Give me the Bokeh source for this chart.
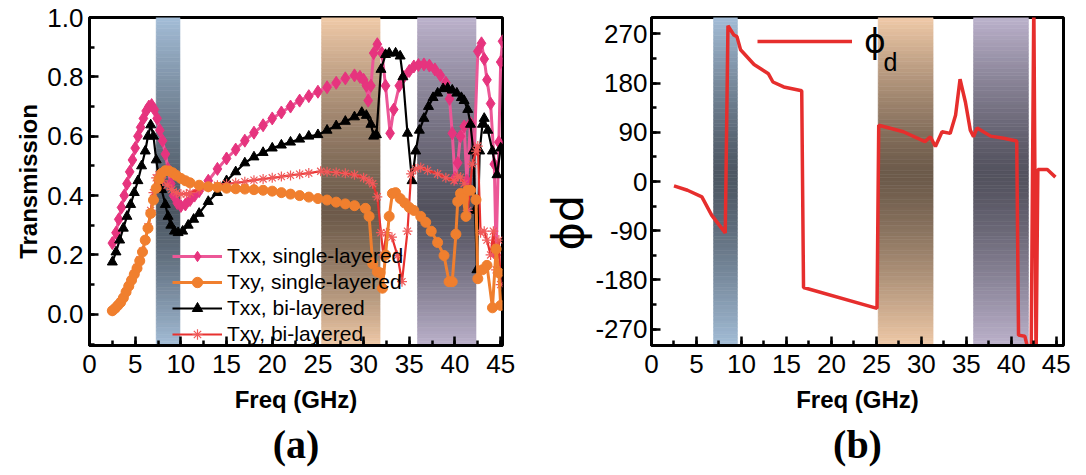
import numpy as np
from bokeh.plotting import figure
from bokeh.models import (Range1d, SingleIntervalTicker, PrintfTickFormatter, Legend,
                          LegendItem, Title, Label)
from bokeh.layouts import row
from bokeh.embed import file_html
from bokeh.resources import INLINE

# ---------------- data: panel (a) ----------------
freq_txx_single = [2.5, 2.9, 3.2, 3.5, 3.8, 4.1, 4.4, 4.7, 5.0, 5.3, 5.6, 5.9, 6.2, 6.5, 6.8, 7.1, 7.4, 7.7, 8.0, 8.3,
                   8.6, 8.9, 9.2, 9.6, 10.0, 10.5, 11.0, 11.5, 12, 13, 14, 15, 16, 17, 18, 19, 20, 21, 22, 23,
                   24, 25, 26, 27, 28, 29, 29.6, 30.0, 30.3, 30.5, 30.8, 31.1, 31.5, 32.0, 32.4, 32.9, 33.3, 33.9, 34.4, 35,
                   35.5, 36, 36.6, 37.2, 37.8, 38.4, 39.0, 39.4, 39.7, 40.0, 40.3, 40.6, 41.0, 41.3, 41.7, 42.1, 42.5, 42.9, 43.2, 43.5,
                   43.9, 44.3, 44.5, 44.8, 45.0, 45.2]
txx_single = [0.24, 0.275, 0.32, 0.36, 0.40, 0.44, 0.48, 0.52, 0.56, 0.60, 0.63, 0.66, 0.685, 0.70, 0.705, 0.69, 0.66, 0.62, 0.585, 0.54,
              0.49, 0.44, 0.40, 0.375, 0.365, 0.37, 0.385, 0.40, 0.415, 0.45, 0.49, 0.525, 0.555, 0.585, 0.612, 0.637, 0.66, 0.68, 0.70, 0.72,
              0.735, 0.75, 0.765, 0.78, 0.795, 0.805, 0.80, 0.79, 0.77, 0.72, 0.77, 0.88, 0.91, 0.88, 0.77, 0.61, 0.69, 0.77, 0.80, 0.82,
              0.835, 0.84, 0.842, 0.838, 0.825, 0.805, 0.78, 0.726, 0.61, 0.46, 0.51, 0.60, 0.633, 0.45, 0.644, 0.55, 0.886, 0.913, 0.86, 0.79,
              0.71, 0.506, 0.20, 0.58, 0.85, 0.92]

freq_txy_single = [2.5, 2.8, 3.1, 3.4, 3.7, 4.0, 4.3, 4.6, 4.9, 5.2, 5.5, 5.8, 6.1, 6.4, 6.7, 7.0, 7.3, 7.6, 7.9, 8.3,
                   8.7, 9.1, 9.5, 10.0, 10.5, 11, 12, 13, 14, 15, 16, 17, 18, 19, 20, 21, 22, 23, 24, 25,
                   26, 27, 28, 29, 30.2, 30.6, 31.0, 31.5, 31.8, 32.06, 32.4, 32.8, 33.15, 33.5, 34, 34.5, 35, 35.5, 36.25, 36.8,
                   37.4, 38.1, 38.8, 39.35, 39.7, 40.1, 40.3, 40.6, 40.9, 41.2, 41.4, 41.7, 42.3, 42.5, 43.0, 43.5, 44.1, 44.5, 44.8, 45.0]
txy_single = [0.012, 0.02, 0.03, 0.04, 0.055, 0.075, 0.095, 0.115, 0.135, 0.155, 0.18, 0.21, 0.25, 0.29, 0.34, 0.385, 0.425, 0.455, 0.475, 0.484,
              0.483, 0.477, 0.468, 0.458, 0.45, 0.443, 0.435, 0.43, 0.428, 0.425, 0.423, 0.422, 0.42, 0.418, 0.415, 0.41, 0.405, 0.40, 0.395, 0.39,
              0.385, 0.378, 0.372, 0.366, 0.357, 0.33, 0.17, 0.143, 0.14, 0.088, 0.20, 0.33, 0.407, 0.41, 0.39, 0.375, 0.36, 0.35, 0.33, 0.31,
              0.28, 0.242, 0.198, 0.11, 0.11, 0.27, 0.38, 0.407, 0.39, 0.33, 0.418, 0.418, 0.386, 0.12, 0.15, 0.165, 0.022, 0.22, 0.14, 0.03]

freq_txx_bi = [2.5, 2.9, 3.3, 3.7, 4.1, 4.5, 4.9, 5.3, 5.7, 6.1, 6.4, 6.7, 7.0, 7.3, 7.6, 7.9, 8.3, 8.6, 8.9, 9.3,
               9.7, 10.2, 10.8, 11.4, 12, 13, 14, 15, 16, 17, 18, 19, 20, 21, 22, 23, 24, 25, 26, 27,
               28, 29, 29.8, 30.3, 30.8, 31.1, 31.4, 31.9, 32.4, 32.8, 33.5, 34.0, 34.3, 34.8, 35.3, 35.7, 36.1, 36.6, 37.1, 37.6,
               38.1, 38.7, 39.2, 39.7, 40.2, 40.7, 41.0, 41.4, 41.7, 42.0, 42.2, 42.4, 42.7, 43.0, 43.2, 43.6, 44.1, 44.6, 45.0]
txx_bi = [0.176, 0.21, 0.25, 0.29, 0.33, 0.37, 0.41, 0.45, 0.50, 0.55, 0.60, 0.638, 0.60, 0.52, 0.46, 0.42, 0.37, 0.33, 0.30, 0.28,
          0.275, 0.28, 0.30, 0.32, 0.34, 0.38, 0.41, 0.45, 0.48, 0.51, 0.53, 0.545, 0.56, 0.57, 0.58, 0.59, 0.60, 0.605, 0.62, 0.635,
          0.65, 0.665, 0.68, 0.67, 0.64, 0.60, 0.605, 0.825, 0.875, 0.88, 0.88, 0.87, 0.80, 0.61, 0.45, 0.55, 0.62, 0.66, 0.70, 0.73,
          0.745, 0.76, 0.762, 0.755, 0.745, 0.73, 0.72, 0.69, 0.64, 0.55, 0.35, 0.15, 0.55, 0.64, 0.66, 0.62, 0.55, 0.47, 0.56]

freq_txy_bi = [2.5, 2.8, 3.1, 3.4, 3.7, 4.0, 4.3, 4.6, 4.9, 5.2, 5.5, 5.8, 6.1, 6.4, 6.7, 7.0, 7.3, 7.6, 8.0, 8.5,
               9.0, 9.5, 10.0, 10.6, 11, 12, 13, 14, 15, 16, 17, 18, 19, 20, 21, 22, 23, 24, 25.3, 26,
               27, 28, 29, 30, 30.6, 31.0, 31.5, 31.9, 32.15, 32.5, 33.1, 33.7, 34.2, 34.8, 35.2, 35.7, 36.25, 37, 38.1, 39,
               39.9, 40.3, 40.6, 41.0, 41.4, 41.9, 42.3, 42.5, 42.8, 43.2, 43.5, 43.9, 44.2, 44.5, 44.8, 45.0]
txy_bi = [0.012, 0.02, 0.03, 0.042, 0.057, 0.077, 0.097, 0.117, 0.137, 0.158, 0.183, 0.213, 0.25, 0.295, 0.35, 0.41, 0.46, 0.47, 0.45, 0.435,
          0.42, 0.41, 0.405, 0.405, 0.41, 0.42, 0.428, 0.435, 0.44, 0.443, 0.447, 0.452, 0.456, 0.46, 0.464, 0.468, 0.472, 0.476, 0.482, 0.48,
          0.478, 0.475, 0.47, 0.46, 0.45, 0.44, 0.396, 0.275, 0.20, 0.275, 0.26, 0.198, 0.11, 0.28, 0.473, 0.49, 0.495, 0.485, 0.473, 0.46,
          0.45, 0.465, 0.462, 0.44, 0.35, 0.506, 0.55, 0.567, 0.275, 0.28, 0.25, 0.20, 0.28, 0.15, 0.25, 0.10]

series_labels = ["Txx, single-layered", "Txy, single-layered", "Txx, bi-layered", "Txy, bi-layered"]

# ---------------- data: panel (b) ----------------
freq_phi = [2.5, 4.0, 5.6, 6.7, 8.2, 8.5, 9.15, 9.5, 9.9, 11.4, 13.0, 13.5, 14.7, 16.7, 16.9, 25.07, 25.26, 28.0, 30.4, 31.0,
            31.56, 32.3, 33.2, 33.8, 34.3, 34.9, 35.44, 35.8, 36.2, 37.7, 39.15, 40.6, 40.8, 41.5, 42.2, 42.5, 42.75, 42.95, 44.0, 44.9]
phi_d = [-8, -16, -28, -62, -94, 285, 268, 265, 241, 214, 197, 182, 173, 166, -194, -232, 103, 91, 73, 82,
         64, 91, 88, 121, 187, 145, 94, 82, 98, 83, 79, 74, -281, -283, -330, 330, -330, 22, 22, 8]

# highlighted bands (GHz)
bands_a = [(7.3, 9.9), (25.4, 31.8), (35.9, 42.3)]
bands_b = [(6.9, 9.55), (25.2, 31.3), (35.8, 41.9)]
band_light = ["#a3bdd7", "#f0caa8", "#bcb2cc"]
band_dark = ["#4d5763", "#6c5a4a", "#53525e"]

FONT = "Liberation Sans"


def hexrgb(h):
    return tuple(int(h[i:i + 2], 16) for i in (1, 3, 5))


def draw_band(p, x0, x1, light, dark, center, ymin, ymax, n=90):
    L = hexrgb(light)
    D = hexrgb(dark)
    edges = np.linspace(ymin, ymax, n + 1)
    bottoms = edges[:-1]
    tops = edges[1:]
    mids = (bottoms + tops) / 2
    t = np.where(mids > center, (mids - center) / (ymax - center), (center - mids) / (center - ymin))
    t = np.clip(t, 0, 1) ** 1.3
    cols = ["#%02x%02x%02x" % tuple(int(round(D[k] + (L[k] - D[k]) * tt)) for k in range(3)) for tt in t]
    p.quad(left=x0, right=x1, bottom=bottoms, top=tops, fill_color=cols, line_color=cols, line_width=0.6)


def style(p):
    p.toolbar_location = None
    p.grid.visible = False
    p.outline_line_color = "black"
    p.outline_line_width = 3
    p.background_fill_color = "white"
    p.border_fill_color = "white"
    for ax in (p.xaxis[0], p.yaxis[0]):
        ax.axis_line_width = 3
        ax.major_tick_in = 9
        ax.major_tick_out = 0
        ax.minor_tick_in = 5
        ax.minor_tick_out = 0
        ax.major_tick_line_width = 2.5
        ax.minor_tick_line_width = 2.5
        ax.major_label_text_font = FONT
        ax.major_label_text_font_size = "26px"
        ax.major_label_text_color = "black"
        ax.axis_label_text_font = FONT
        ax.axis_label_text_font_style = "bold"
        ax.axis_label_text_font_size = "24px"
        ax.axis_label_text_color = "black"
    p.xaxis[0].major_label_standoff = 9
    p.xaxis[0].axis_label_standoff = 10
    p.yaxis[0].major_label_standoff = 6


# ---------------- panel (a) ----------------
p1 = figure(width=540, height=475, output_backend="svg", toolbar_location=None,
            x_range=Range1d(0, 45.2), y_range=Range1d(-0.105, 1.0),
            min_border_left=89, min_border_right=38, min_border_top=17, min_border_bottom=123)
style(p1)
p1.xaxis[0].ticker = SingleIntervalTicker(interval=5, num_minor_ticks=2)
p1.yaxis[0].ticker = SingleIntervalTicker(interval=0.2, num_minor_ticks=2)
p1.yaxis[0].formatter = PrintfTickFormatter(format="%.1f")
p1.xaxis[0].axis_label = "Freq (GHz)"
p1.yaxis[0].axis_label = "Transmission"
p1.yaxis[0].axis_label_standoff = 2

for (x0, x1), lc, dc in zip(bands_a, band_light, band_dark):
    draw_band(p1, x0, x1, lc, dc, 0.35, -0.105, 1.0)

r_pk_l = p1.line(freq_txx_single, txx_single, line_color="#ec5797", line_width=3)
r_pk_m = p1.scatter(freq_txx_single, txx_single, marker="diamond", size=13, fill_color="#e6347e", line_color="#e6347e")
r_bk_l = p1.line(freq_txx_bi, txx_bi, line_color="black", line_width=2.2)
r_bk_m = p1.scatter(freq_txx_bi, txx_bi, marker="triangle", size=10, fill_color="black", line_color="black")
r_rd_l = p1.line(freq_txy_bi, txy_bi, line_color="#e8312f", line_width=2.2)
r_rd_m = p1.scatter(freq_txy_bi, txy_bi, marker="asterisk", size=10, line_color="#f05a5a", line_width=1.2)
r_or_l = p1.line(freq_txy_single, txy_single, line_color="#f07f2e", line_width=3)
r_or_m = p1.scatter(freq_txy_single, txy_single, marker="circle", size=10, fill_color="#f07f2e", line_color="#f07f2e")

leg1 = Legend(items=[
    LegendItem(label=series_labels[0], renderers=[r_pk_l, r_pk_m]),
    LegendItem(label=series_labels[1], renderers=[r_or_l, r_or_m]),
    LegendItem(label=series_labels[2], renderers=[r_bk_l, r_bk_m]),
    LegendItem(label=series_labels[3], renderers=[r_rd_l, r_rd_m]),
], location=(83, -2), orientation="vertical", background_fill_alpha=0, border_line_alpha=0,
    padding=0, margin=0, spacing=0, glyph_width=50, glyph_height=26, label_height=26,
    label_standoff=5, label_text_font=FONT, label_text_font_size="21px", label_text_color="black")
p1.add_layout(leg1, "center")
p1.add_layout(Title(text="(a)", align="center", text_font="Liberation Serif", text_font_size="40px",
                    text_font_style="bold", text_color="black", standoff=8), "below")

# ---------------- panel (b) ----------------
p2 = figure(width=546, height=475, output_backend="svg", toolbar_location=None,
            x_range=Range1d(0, 45.8), y_range=Range1d(-300, 300),
            min_border_left=111, min_border_right=23, min_border_top=13, min_border_bottom=130)
style(p2)
p2.yaxis[0].major_label_standoff = 4
p2.xaxis[0].ticker = SingleIntervalTicker(interval=5, num_minor_ticks=2)
p2.yaxis[0].ticker = SingleIntervalTicker(interval=90, num_minor_ticks=2)
p2.yaxis[0].formatter = PrintfTickFormatter(format="%d")
p2.xaxis[0].axis_label = "Freq (GHz)"

for (x0, x1), lc, dc in zip(bands_b, band_light, band_dark):
    draw_band(p2, x0, x1, lc, dc, 10, -300, 300)

r_phi = p2.line(freq_phi, phi_d, line_color="#e62e2d", line_width=3.5)
leg2 = Legend(items=[LegendItem(label="\u03d5", renderers=[r_phi])],
              location=(106, 284), background_fill_alpha=0, border_line_alpha=0,
              padding=0, margin=0, glyph_width=95, glyph_height=40, label_height=40,
              label_standoff=12, label_text_font="DejaVu Sans", label_text_font_size="33px",
              label_text_color="black")
p2.add_layout(leg2, "center")
p2.add_layout(Label(x=25.8, y=219, text="d", text_font=FONT, text_font_size="25px",
                    text_baseline="middle", text_align="left", text_color="black"))
# vertical title of the phase axis
p2.add_layout(Title(text="\u03d5d", align="left", offset=95, text_font="DejaVu Sans",
                    text_font_size="43px", text_font_style="normal", text_color="black", standoff=0), "left")
p2.add_layout(Title(text="(b)", align="center", text_font="Liberation Serif", text_font_size="40px",
                    text_font_style="bold", text_color="black", standoff=8), "below")

layout = row(p1, p2)
open("out.html", "w").write(file_html(layout, INLINE))
